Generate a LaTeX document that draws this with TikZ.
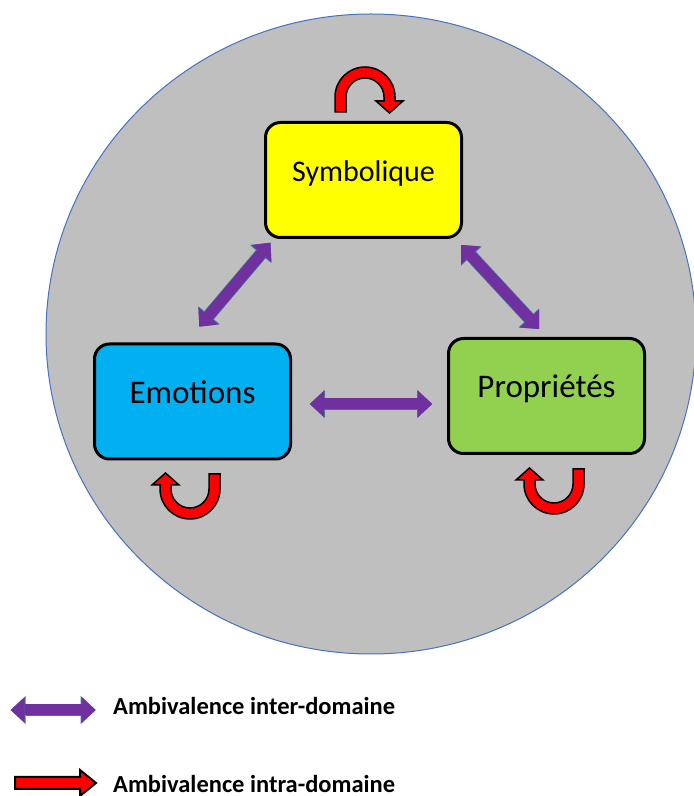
\documentclass[tikz,border=0pt]{standalone}
\usepackage{fontspec}
\setmainfont{Carlito}
\usepackage{xcolor}
\usepackage{tikz}
\usetikzlibrary{arrows.meta}
\definecolor{disc}{HTML}{BFBFBF}
\definecolor{discline}{HTML}{4472C4}
\definecolor{symbcol}{HTML}{FFFF00}
\definecolor{emocol}{HTML}{00B0F0}
\definecolor{propcol}{HTML}{92D050}
\definecolor{interpurple}{HTML}{7030A0}
\definecolor{interedge}{HTML}{41719C}
\tikzstyle{block} = [rectangle, draw, line width=3pt, rounded corners=15pt,
    minimum width=196pt, minimum height=115pt, text height=21pt, text depth=17pt,
    font=\fontsize{33}{38}\selectfont]
\tikzstyle{inter} = [draw=interpurple, line width=11pt,
    arrows={Triangle[length=14pt,width=26pt,line width=0pt]-Triangle[length=14pt,width=26pt,line width=0pt]},
    preaction={draw=interedge, line width=12.5pt,
    arrows={Triangle[length=15pt,width=28pt,line width=0pt]-Triangle[length=15pt,width=28pt,line width=0pt]}}]
\tikzstyle{key} = [anchor=base west, inner sep=0pt, text depth=0pt, font=\bfseries\fontsize{24.5}{28}\selectfont]
\tikzset{intraloop/.pic={
    \filldraw[fill=red, draw=black, line width=1.5pt, line join=miter]
      (-30,-15) -- (-30,0) arc[start angle=180, end angle=0, radius=30]
      -- (30,-4) -- (38,-4) -- (24.5,-16) -- (11,-4) -- (19,-4) -- (19,0)
      arc[start angle=0, end angle=180, radius=19] -- (-19,-15) -- cycle;
}}

\begin{document}
\begin{tikzpicture}[x=1pt, y=1pt]
    \useasboundingbox (0,0) rectangle (694,796);
    % Background disc
    \filldraw[fill=disc, draw=discline, line width=1pt] (371,462) ellipse [x radius=325, y radius=320];
    % Place nodes
    \node [block, fill=symbcol, font=\fontsize{30}{36}\selectfont] (symb) at (363.5,616) {Symbolique};
    \node [block, fill=emocol] (emo) at (192.5,394.5) {Emotions};
    \node [block, fill=propcol] (prop) at (546.5,400) {Propriétés};
    % Draw edges
    \path [inter] ([shift={(17.8,-2.5)}]emo.east) -- ([shift={(-14.8,-8)}]prop.west);
    \path [inter] ([shift={(6.8,15.8)}]emo.north) -- ([shift={(6.5,-3.7)}]symb.south west);
    \path [inter] ([shift={(-1.8,-6)}]symb.south east) -- ([shift={(-7.5,8)}]prop.north);
    % Intra-domain loops
    \pic at ([shift={(1.5,24)}]symb.north) {intraloop};
    \pic [rotate=180] at ([shift={(-2.5,-28.5)}]emo.south) {intraloop};
    \pic [rotate=180] at ([shift={(7.5,-29)}]prop.south) {intraloop};
    % Legend
    \coordinate (interL) at (10.7,86);
    \coordinate (interR) at (95.7,86);
    \path [inter] (interL) -- (interR);
    \node [key] (interkey) at (113,81) {Ambivalence inter-domaine};
    \coordinate (intraL) at (15,13);
    \filldraw[fill=red, draw=black, line width=2pt, line join=miter]
      (intraL) ++(0,-6) -- ++(65,0) -- ++(0,-7) -- ++(16,13) -- ++(-16,13) -- ++(0,-7) -- ++(-65,0) -- cycle;
    \node [key] (intrakey) at (113,4) {Ambivalence intra-domaine};
\end{tikzpicture}
\end{document}
